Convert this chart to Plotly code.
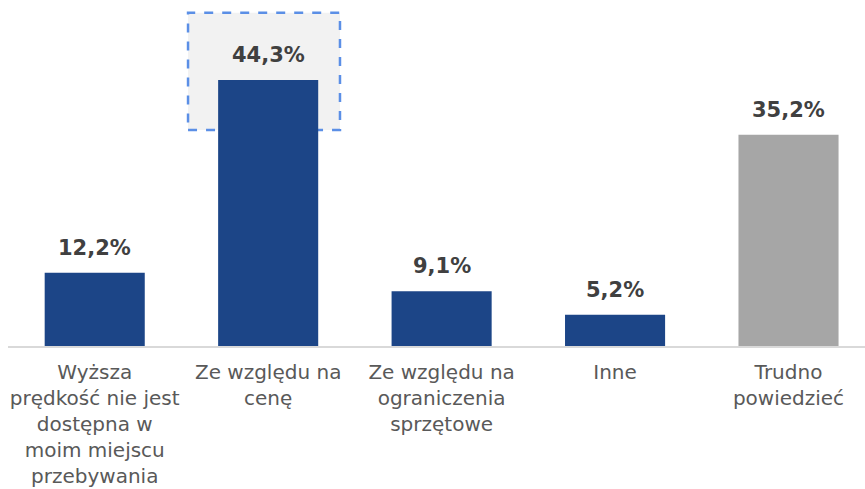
import plotly.graph_objects as go

categories = ["Wyższa<br>prędkość nie jest<br>dostępna w<br>moim miejscu<br>przebywania",
              "Ze względu na<br>cenę",
              "Ze względu na<br>ograniczenia<br>sprzętowe",
              "Inne",
              "Trudno<br>powiedzieć"]
values = [12.2, 44.3, 9.1, 5.2, 35.2]
labels = ["12,2%", "44,3%", "9,1%", "5,2%", "35,2%"]
colors = ["#1C4587", "#1C4587", "#1C4587", "#1C4587", "#A6A6A6"]

FONT = "DejaVu Sans"
x = list(range(len(categories)))

fig = go.Figure()
fig.add_trace(go.Bar(x=x, y=values, marker=dict(color=colors, line=dict(width=0)),
                     width=0.577, hoverinfo="skip"))

for xi, v, t in zip(x, values, labels):
    fig.add_annotation(x=xi, y=v, text="<b>%s</b>" % t, showarrow=False,
                       yanchor="bottom", yshift=11,
                       font=dict(family=FONT, size=21, color="#404040"))

# highlight box around the price bar
fig.add_shape(type="rect", x0=0.538, x1=1.414, y0=35.97, y1=55.5,
              xref="x", yref="y", layer="below",
              fillcolor="#F2F2F2",
              line=dict(color="#5B8FE6", width=2.5, dash="dash"))

fig.update_layout(
    width=865, height=489,
    margin=dict(l=8, r=0, t=0, b=143),
    plot_bgcolor="white", paper_bgcolor="white",
    showlegend=False,
    xaxis=dict(range=[-0.5, 4.441], tickmode="array", tickvals=x, ticktext=categories,
               showline=True, linecolor="#D9D9D9", linewidth=1.5, automargin=False,
               showgrid=False, zeroline=False, ticks="", ticklabelstandoff=7,
               tickfont=dict(family=FONT, size=20, color="#595959")),
    yaxis=dict(range=[0, 57.62], visible=False, showgrid=False, zeroline=False,
               automargin=False),
)

fig.write_html("out.html", config={"displayModeBar": False},
               post_script="document.body.style.margin='0';document.body.style.overflow='hidden';")
